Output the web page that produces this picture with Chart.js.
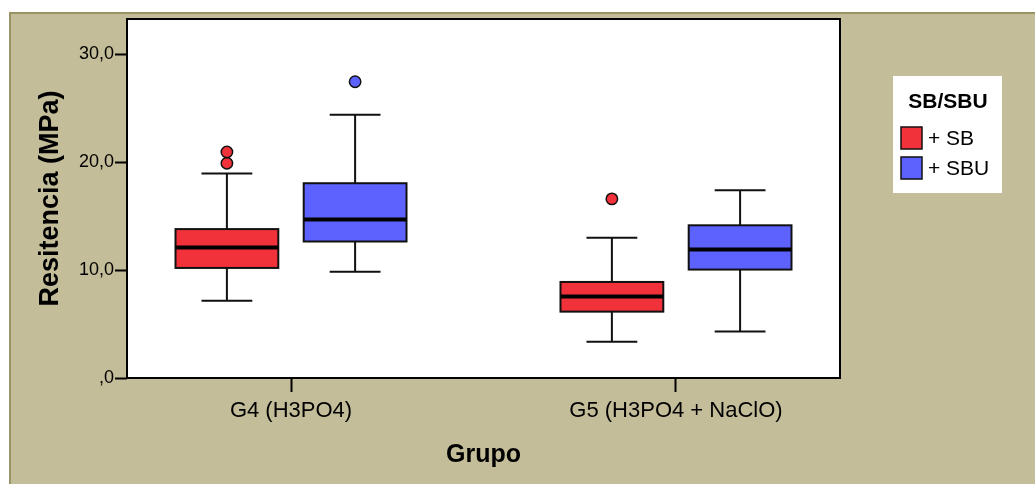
<!DOCTYPE html>
<html>
<head>
<meta charset="utf-8">
<script src="https://cdn.jsdelivr.net/npm/chart.js@4.4.1/dist/chart.umd.min.js"></script>
<style>
  html, body { margin: 0; padding: 0; background: #ffffff; }
  #wrap { width: 1035px; height: 484px; }
</style>
</head>
<body>
<div id="wrap"><canvas id="c" width="1035" height="484"></canvas></div>
<script>
// Groups on the x axis and the two series drawn in each group
const groups = ['G4 (H3PO4)', 'G5 (H3PO4 + NaClO)'];
const seriesNames = ['+ SB', '+ SBU'];

// Box-plot summaries, one value per group (MPa)
const sbMin = [7.15, 3.35];
const sbQ1 = [10.2, 6.15];
const sbMedian = [12.1, 7.55];
const sbQ3 = [13.8, 8.9];
const sbMax = [18.95, 13.0];
const sbOutliers = [[19.9, 20.95], [16.6]];

const sbuMin = [9.85, 4.3];
const sbuQ1 = [12.65, 10.05];
const sbuMedian = [14.7, 11.9];
const sbuQ3 = [18.05, 14.15];
const sbuMax = [24.4, 17.4];
const sbuOutliers = [[27.45], []];

// Y axis ticks
const yTickValues = [0, 10, 20, 30];
const yTickLabels = [',0', '10,0', '20,0', '30,0'];

// Layout (x axis units: group i sits at i + 1)
const SERIES_OFFSET = [-0.1665, 0.1665];
const BOX_WIDTH = 0.267;
const CAP_WIDTH = 0.132;
const COLORS = ['#F1323A', '#5D62FF'];

const FONT = "'Liberation Sans', Arial, Helvetica, sans-serif";
Chart.defaults.font.family = FONT;
Chart.defaults.color = '#000000';

function outlierPoints(lists, s) {
  const pts = [];
  lists.forEach((vals, i) => vals.forEach(v => pts.push({ x: i + 1 + SERIES_OFFSET[s], y: v })));
  return pts;
}

const datasets = [
  {
    label: seriesNames[0],
    data: outlierPoints(sbOutliers, 0),
    stats: { min: sbMin, q1: sbQ1, median: sbMedian, q3: sbQ3, max: sbMax },
    backgroundColor: COLORS[0],
    borderColor: '#111111',
    borderWidth: 1.5,
    pointRadius: 5.7
  },
  {
    label: seriesNames[1],
    data: outlierPoints(sbuOutliers, 1),
    stats: { min: sbuMin, q1: sbuQ1, median: sbuMedian, q3: sbuQ3, max: sbuMax },
    backgroundColor: COLORS[1],
    borderColor: '#111111',
    borderWidth: 1.5,
    pointRadius: 5.7
  }
];

// Page panel, white plot area, and frame around it
const panelPlugin = {
  id: 'panel',
  beforeDraw(chart) {
    const { ctx, chartArea: a, width, height } = chart;
    ctx.save();
    ctx.fillStyle = '#ffffff';
    ctx.fillRect(0, 0, width, height);
    ctx.fillStyle = '#C4BD99';
    ctx.fillRect(9, 12, width - 9, height - 12);
    ctx.strokeStyle = '#9A9364';
    ctx.lineWidth = 2;
    ctx.beginPath();
    ctx.moveTo(10, height);
    ctx.lineTo(10, 13);
    ctx.lineTo(width, 13);
    ctx.stroke();
    ctx.fillStyle = '#ffffff';
    ctx.fillRect(a.left, a.top, a.right - a.left, a.bottom - a.top);
    ctx.restore();
  },
  afterDraw(chart) {
    const { ctx, chartArea: a } = chart;
    ctx.save();
    ctx.strokeStyle = '#000000';
    ctx.lineWidth = 2;
    ctx.strokeRect(a.left, a.top, a.right - a.left, a.bottom - a.top);
    ctx.restore();
  }
};

// Boxes, medians and whiskers from the summary arrays
const boxPlugin = {
  id: 'boxes',
  beforeDatasetsDraw(chart) {
    const { ctx, scales: { x, y } } = chart;
    const unit = x.getPixelForValue(2) - x.getPixelForValue(1);
    chart.data.datasets.forEach((ds, s) => {
      const st = ds.stats;
      if (!st) return;
      groups.forEach((g, i) => {
        const cx = x.getPixelForValue(i + 1 + SERIES_OFFSET[s]);
        const hw = BOX_WIDTH * unit / 2;
        const cw = CAP_WIDTH * unit / 2;
        const yMin = y.getPixelForValue(st.min[i]);
        const yQ1 = y.getPixelForValue(st.q1[i]);
        const yMed = y.getPixelForValue(st.median[i]);
        const yQ3 = y.getPixelForValue(st.q3[i]);
        const yMax = y.getPixelForValue(st.max[i]);
        ctx.save();
        // whiskers
        ctx.strokeStyle = '#111111';
        ctx.lineWidth = 2;
        ctx.beginPath();
        ctx.moveTo(cx, yQ3); ctx.lineTo(cx, yMax);
        ctx.moveTo(cx - cw, yMax); ctx.lineTo(cx + cw, yMax);
        ctx.moveTo(cx, yQ1); ctx.lineTo(cx, yMin);
        ctx.moveTo(cx - cw, yMin); ctx.lineTo(cx + cw, yMin);
        ctx.stroke();
        // box
        ctx.fillStyle = ds.backgroundColor;
        ctx.fillRect(cx - hw, yQ3, 2 * hw, yQ1 - yQ3);
        ctx.strokeRect(cx - hw, yQ3, 2 * hw, yQ1 - yQ3);
        // median
        ctx.strokeStyle = '#000000';
        ctx.lineWidth = 4;
        ctx.beginPath();
        ctx.moveTo(cx - hw, yMed); ctx.lineTo(cx + hw, yMed);
        ctx.stroke();
        ctx.restore();
      });
    });
  }
};

// Legend box on the right
const legendPlugin = {
  id: 'sideLegend',
  afterDraw(chart) {
    const { ctx } = chart;
    const bx = 893, by = 76, bw = 109, bh = 117;
    ctx.save();
    ctx.fillStyle = '#ffffff';
    ctx.fillRect(bx, by, bw, bh);
    ctx.fillStyle = '#000000';
    ctx.font = 'bold 21px ' + FONT;
    ctx.textAlign = 'center';
    ctx.textBaseline = 'middle';
    ctx.fillText('SB/SBU', bx + 55, by + 26);
    ctx.textAlign = 'left';
    ctx.font = '21px ' + FONT;
    chart.data.datasets.forEach((ds, i) => {
      const sy = by + 51 + i * 30;
      ctx.fillStyle = ds.backgroundColor;
      ctx.fillRect(bx + 8, sy, 21, 22);
      ctx.strokeStyle = '#111111';
      ctx.lineWidth = 1.5;
      ctx.strokeRect(bx + 8, sy, 21, 22);
      ctx.fillStyle = '#000000';
      ctx.fillText(ds.label, bx + 35, sy + 12);
    });
    ctx.restore();
  }
};

new Chart(document.getElementById('c'), {
  type: 'scatter',
  data: { datasets },
  plugins: [panelPlugin, boxPlugin, legendPlugin],
  options: {
    responsive: false,
    devicePixelRatio: 1,
    animation: false,
    layout: { padding: { top: 19, right: 195, left: 0, bottom: 0 } },
    plugins: { legend: { display: false }, tooltip: { enabled: false } },
    scales: {
      x: {
        type: 'linear',
        min: 0.574,
        max: 2.426,
        afterBuildTicks: (s) => { s.ticks = groups.map((g, i) => ({ value: i + 1 })); },
        afterFit: (s) => { s.height = 106; },
        border: { display: false },
        grid: { drawOnChartArea: false, drawTicks: true, tickLength: 14, tickWidth: 2, tickColor: '#000000' },
        ticks: {
          autoSkip: false,
          maxRotation: 0,
          padding: 6,
          font: { size: 22 },
          color: '#000000',
          callback: (v, i) => groups[i]
        },
        title: {
          display: true,
          text: 'Grupo',
          font: { size: 25, weight: 'bold' },
          color: '#000000',
          padding: { top: 0, bottom: 14 }
        }
      },
      y: {
        min: 0,
        max: 33.27,
        afterBuildTicks: (s) => { s.ticks = yTickValues.map(v => ({ value: v })); },
        afterFit: (s) => { s.width = 127; },
        border: { display: false },
        grid: { drawOnChartArea: false, drawTicks: true, tickLength: 12, tickWidth: 2, tickColor: '#000000' },
        ticks: {
          padding: 1,
          font: { size: 18 },
          color: '#000000',
          callback: (v, i) => yTickLabels[i]
        },
        title: {
          display: true,
          text: 'Resitencia (MPa)',
          font: { size: 27, weight: 'bold' },
          color: '#000000',
          padding: { top: 34, bottom: 0 }
        }
      }
    }
  }
});
</script>
</body>
</html>
